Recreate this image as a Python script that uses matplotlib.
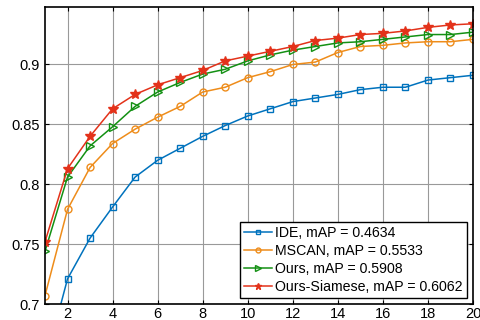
import matplotlib
matplotlib.use("Agg")
import matplotlib.pyplot as plt

plt.rcParams['font.family'] = ['Liberation Sans', 'DejaVu Sans']

rank = list(range(1, 21))
ide = [0.650, 0.721, 0.755, 0.781, 0.806, 0.820, 0.830, 0.840, 0.849, 0.857,
       0.863, 0.869, 0.872, 0.875, 0.879, 0.881, 0.881, 0.887, 0.889, 0.891]
mscan = [0.707, 0.779, 0.814, 0.834, 0.846, 0.856, 0.865, 0.877, 0.881, 0.889,
         0.894, 0.900, 0.902, 0.910, 0.915, 0.916, 0.918, 0.919, 0.919, 0.921]
ours = [0.744, 0.806, 0.832, 0.848, 0.865, 0.877, 0.885, 0.892, 0.896, 0.903,
        0.908, 0.912, 0.915, 0.918, 0.919, 0.921, 0.923, 0.925, 0.925, 0.927]
siamese = [0.752, 0.813, 0.840, 0.863, 0.875, 0.883, 0.889, 0.895, 0.903, 0.907,
           0.911, 0.915, 0.920, 0.922, 0.925, 0.926, 0.928, 0.931, 0.933, 0.934]
labels = ["IDE, mAP = 0.4634", "MSCAN, mAP = 0.5533",
          "Ours, mAP = 0.5908", "Ours-Siamese, mAP = 0.6062"]

fig = plt.figure(figsize=(4.81, 3.2), dpi=100)
ax = fig.add_axes([45 / 481, 16 / 320, 428 / 481, 297 / 320])

ax.plot(rank, ide, '-s', color='#0072BD', mfc='none', ms=5, lw=1.1, label=labels[0])
ax.plot(rank, mscan, '-o', color='#EE8C1A', mfc='none', ms=5, lw=1.1, label=labels[1])
ax.plot(rank, ours, '->', color='#139013', mfc='none', ms=6, lw=1.1, label=labels[2])
ax.plot(rank, siamese, '-*', color='#E3321A', ms=7, lw=1.1, label=labels[3])

ax.set_xlim(1, 20)
ax.set_ylim(0.7, 0.948)
ax.set_xticks(range(2, 21, 2))
ax.set_yticks([0.7, 0.75, 0.8, 0.85, 0.9])
ax.set_yticklabels(["0.7", "0.75", "0.8", "0.85", "0.9"])
ax.grid(True, color='#999999', lw=0.8)
ax.tick_params(direction='in', labelsize=10.5, length=3, top=True, right=True)
ax.tick_params(axis='x', pad=2)
for s in ax.spines.values():
    s.set_linewidth(1.2)

leg = ax.legend(loc='lower right', bbox_to_anchor=(0.986, 0.02), fontsize=10.2,
                frameon=True, fancybox=False, edgecolor='black', framealpha=1,
                handlelength=2.0, handletextpad=0.2, borderpad=0.3,
                labelspacing=0.28, borderaxespad=0.0, markerscale=0.7)
leg.get_frame().set_linewidth(1.0)

fig.savefig("out.png", dpi=100)
